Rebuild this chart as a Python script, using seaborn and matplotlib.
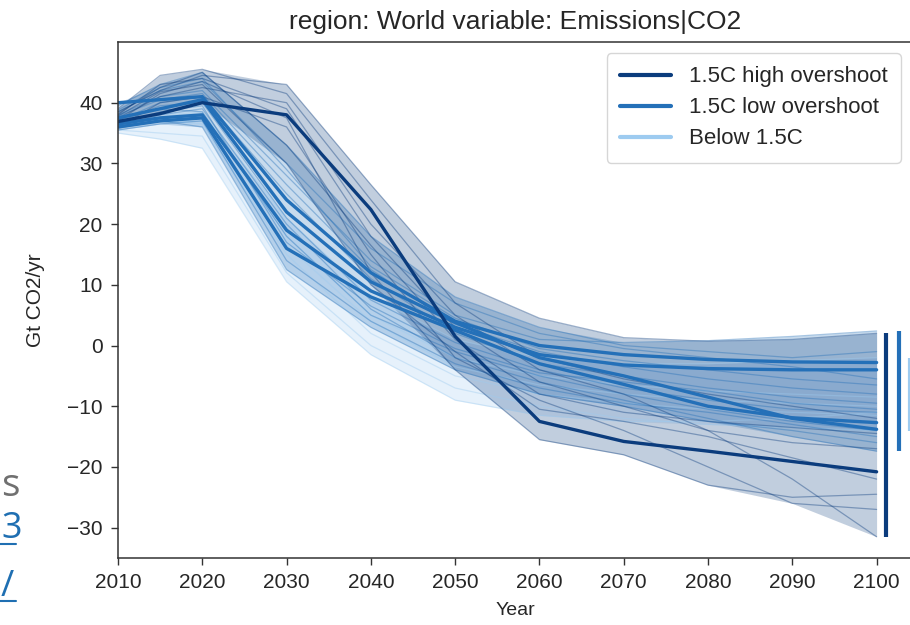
import numpy as np
import pandas as pd
import matplotlib.pyplot as plt
import seaborn as sns
from matplotlib.lines import Line2D

# --------------------------------------------------------------
# Data (Gt CO2/yr)
# --------------------------------------------------------------
years = [2010, 2015, 2020, 2030, 2040, 2050, 2060, 2070, 2080, 2090, 2100]

categories = ["Below 1.5C", "1.5C low overshoot", "1.5C high overshoot"]
legend_order = ["1.5C high overshoot", "1.5C low overshoot", "Below 1.5C"]
colors = {
    "1.5C high overshoot": "#0b3c7d",
    "1.5C low overshoot": "#2470b8",
    "Below 1.5C": "#9dcbf0",
}

# highlighted (thick) pathways
high_main = [
    [36.9, 38.2, 40.0, 38.0, 22.4, 1.5, -12.5, -15.8, -17.4, -19.1, -20.8],
]
low_main = [
    [40.0, 40.5, 41.0, 24.0, 12.0, 4.0, 0.0, -1.5, -2.3, -2.7, -2.8],
    [36.5, 37.5, 38.0, 19.0, 9.0, 3.0, -1.5, -3.2, -3.8, -4.0, -4.0],
    [36.0, 37.0, 37.5, 16.0, 8.0, 2.5, -3.0, -6.4, -10.0, -11.9, -12.7],
    [37.5, 39.0, 40.5, 22.0, 10.5, 3.8, -2.0, -5.0, -8.5, -12.0, -13.8],
]

# individual scenarios (thin)
high_thin = [
    [38.5, 42.0, 44.5, 43.0, 26.5, 10.5, 4.5, 1.3, 0.7, 1.0, 2.0],
    [37.5, 41.0, 42.5, 40.0, 20.0, 5.0, -4.0, -8.0, -14.0, -22.0, -31.5],
    [39.0, 44.5, 45.5, 41.5, 24.0, 7.0, -2.0, -5.5, -8.0, -10.0, -12.0],
    [36.0, 40.0, 41.0, 36.0, 15.0, -2.0, -9.0, -14.0, -20.0, -26.0, -27.0],
    [38.0, 43.0, 44.0, 39.0, 18.0, 3.0, -6.0, -10.0, -14.0, -16.0, -17.0],
    [37.0, 41.5, 43.5, 37.5, 12.0, -4.0, -15.5, -18.0, -23.0, -25.0, -24.5],
    [38.2, 42.5, 45.0, 33.0, 16.5, 1.0, -8.0, -11.0, -12.5, -13.5, -14.5],
    [37.8, 41.8, 43.0, 30.0, 10.0, -1.0, -10.5, -12.5, -15.0, -18.5, -22.0],
]
low_thin = [
    [38.0, 41.0, 42.0, 28.0, 14.0, 5.0, 1.0, 0.5, 0.8, 1.5, 2.4],
    [36.0, 38.0, 39.0, 20.0, 6.0, -2.0, -6.0, -9.0, -12.0, -15.0, -17.4],
    [37.0, 40.0, 41.0, 25.0, 11.0, 2.0, -3.0, -5.0, -7.0, -8.5, -9.5],
    [35.5, 36.5, 37.0, 14.0, 4.0, -3.0, -7.0, -9.5, -11.0, -13.0, -15.0],
    [38.5, 42.0, 43.5, 30.0, 16.0, 7.0, 2.0, -0.5, -2.0, -3.5, -5.5],
    [36.8, 39.5, 40.0, 21.0, 7.5, 0.5, -4.0, -7.0, -9.0, -10.5, -11.0],
    [37.2, 39.0, 38.5, 18.0, 5.0, -1.0, -5.0, -8.0, -10.5, -12.5, -14.0],
    [39.5, 43.0, 45.0, 33.0, 18.0, 8.0, 3.0, 0.0, -1.0, -2.0, -1.0],
    [37.8, 40.5, 41.5, 26.5, 12.5, 3.5, -1.0, -3.5, -5.5, -7.0, -8.0],
    [36.4, 38.5, 39.5, 17.0, 6.5, -0.5, -4.5, -6.0, -7.5, -9.5, -10.5],
    [38.8, 42.5, 44.0, 29.0, 13.0, 4.5, -0.5, -2.5, -4.0, -5.5, -6.5],
    [35.8, 37.0, 36.0, 12.5, 3.0, -4.0, -8.0, -10.0, -12.5, -14.0, -16.0],
]
below_thin = [
    [35.5, 35.0, 34.5, 12.0, 0.0, -7.0, -10.0, -12.0, -13.0, -13.5, -14.0],
    [36.0, 37.0, 36.5, 15.0, 2.0, -5.0, -8.0, -9.5, -10.5, -11.0, -11.5],
    [36.5, 37.5, 38.0, 18.0, 5.0, -2.0, -5.0, -6.5, -7.5, -8.0, -8.5],
    [37.0, 38.0, 38.5, 21.0, 8.0, 1.0, -2.0, -3.0, -3.0, -2.5, -2.0],
    [35.0, 34.0, 32.5, 10.5, -1.5, -9.0, -11.5, -12.5, -12.5, -12.0, -11.0],
    [36.2, 36.8, 37.0, 16.5, 4.0, -3.5, -6.5, -8.0, -9.0, -9.5, -10.0],
]

# final range bar positions (just right of 2100)
range_x = {"1.5C high overshoot": 2101.1, "1.5C low overshoot": 2102.6, "Below 1.5C": 2104.0}

# --------------------------------------------------------------
# Long-form table
# --------------------------------------------------------------
rows = []
groups = [
    ("1.5C high overshoot", high_main, True),
    ("1.5C high overshoot", high_thin, False),
    ("1.5C low overshoot", low_main, True),
    ("1.5C low overshoot", low_thin, False),
    ("Below 1.5C", below_thin, False),
]
for cat, series, main in groups:
    for i, vals in enumerate(series):
        name = f"{cat}|{'main' if main else 'thin'}{i}"
        for yr, v in zip(years, vals):
            rows.append({"category": cat, "scenario": name, "main": main, "year": yr, "value": v})
df = pd.DataFrame(rows)

# --------------------------------------------------------------
# Plot
# --------------------------------------------------------------
sns.set_style("ticks")
plt.rcParams["font.family"] = ["Liberation Sans", "DejaVu Sans"]
plt.rcParams["axes.edgecolor"] = "#333333"
plt.rcParams["axes.linewidth"] = 1.1

fig = plt.figure(figsize=(9.1, 6.25), dpi=100)
ax = fig.add_axes([118 / 910, 1 - 558 / 625, (912 - 118) / 910, (558 - 42) / 625])

for cat in categories:
    sub = df[df["category"] == cat]
    band = sub.groupby("year")["value"].agg(["min", "max"])
    ax.fill_between(band.index, band["min"], band["max"], color=colors[cat], alpha=0.25, lw=0)
    sns.lineplot(data=sub[~sub["main"]], x="year", y="value", units="scenario", estimator=None,
                 color=colors[cat], lw=0.9, alpha=0.4, ax=ax, legend=False)

for cat in categories:
    sub = df[(df["category"] == cat) & df["main"]]
    if len(sub):
        sns.lineplot(data=sub, x="year", y="value", units="scenario", estimator=None,
                     color=colors[cat], lw=2.4, ax=ax, legend=False)

# final ranges at 2100
last = df[df["year"] == years[-1]].groupby("category")["value"].agg(["min", "max"])
for cat in categories:
    ax.vlines(range_x[cat], last.loc[cat, "min"], last.loc[cat, "max"], color=colors[cat], lw=3)

ax.set_xlim(2010, 2104.2)
ax.set_ylim(-35, 50)
ax.set_xticks(range(2010, 2101, 10))
ax.set_yticks(range(-30, 41, 10))
ax.tick_params(labelsize=15, length=5, width=1, color="#333333", pad=6)
ax.set_xlabel("Year", fontsize=14, labelpad=7)
ax.set_ylabel("Gt CO2/yr", fontsize=15, labelpad=16)
ax.set_title("region: World variable: Emissions|CO2", fontsize=19, pad=9)

handles = [Line2D([0], [0], color=colors[c], lw=3) for c in legend_order]
leg = ax.legend(handles, legend_order, loc="upper right", fontsize=16, frameon=True,
                handlelength=2.3, borderpad=0.6, labelspacing=0.45)
leg.get_frame().set_edgecolor("#cccccc")

# page text at the left edge of the screenshot
fig.text(1 / 910, 1 - 496 / 625, "s", fontsize=28, color="#707070", ha="left", va="baseline",
         family="Open Sans")
fig.text(1 / 910, 1 - 538 / 625, "3", fontsize=26, color="#1f6fb2", ha="left", va="baseline",
         family="Open Sans")
fig.text(1 / 910, 1 - 596 / 625, "/", fontsize=26, color="#1f6fb2", ha="left", va="baseline",
         family="Open Sans")
fig.add_artist(Line2D([0, 16 / 910], [1 - 544 / 625] * 2, color="#1f6fb2", lw=1.5))
fig.add_artist(Line2D([0, 16 / 910], [1 - 601 / 625] * 2, color="#1f6fb2", lw=1.5))

plt.savefig("out.png", dpi=100)
plt.close()
